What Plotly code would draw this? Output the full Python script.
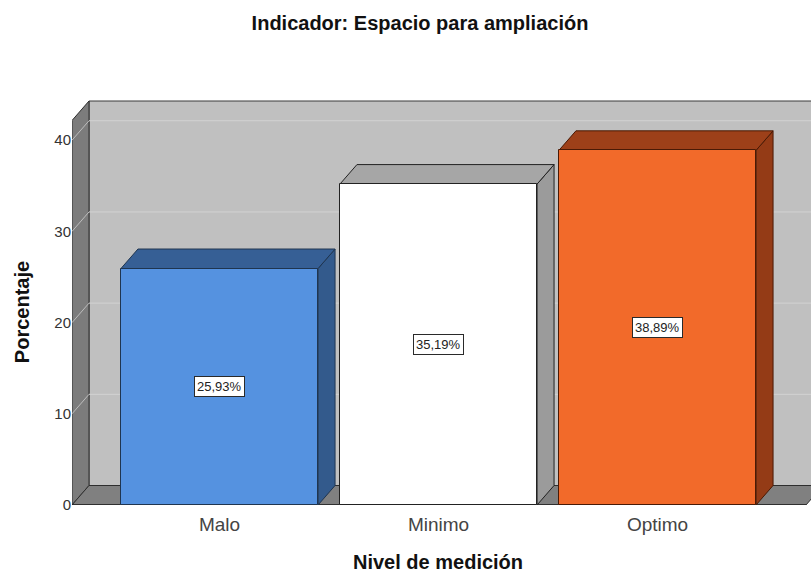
import plotly.graph_objects as go

# ---------------- data ----------------
categories = ["Malo", "Minimo", "Optimo"]
percentages = [25.93, 35.19, 38.89]
y_tick_values = [0, 10, 20, 30, 40]
title_text = "Indicador: Espacio para ampliación"
y_title = "Porcentaje"
x_title = "Nivel de medición"

# ---------------- style ----------------
front_colors = ["#5592e0", "#ffffff", "#f26a2a"]
top_colors = ["#365f95", "#a6a6a6", "#9d4019"]
side_colors = ["#335a8c", "#9b9b9b", "#943b16"]
edge_colors = ["#1f3550", "#222222", "#4a1a05"]
BAR_W = 0.9
X_RANGE = [-0.6735, 2.7009]
Y_RANGE = [0, 44.52]
X_FLOOR_END = 2.678
DX = 17 / 219.0      # depth offset in x units
DY = 19.5 / 9.12     # depth offset in y units
WALL_TOP = 44.3 - DY

FONT = "Liberation Sans, Arial, sans-serif"

x_pos = list(range(len(categories)))
xL = X_RANGE[0]
xR = X_FLOOR_END

shapes = []


def poly(pts, fill, line="#333333", width=1, layer="below"):
    path = "M " + " L ".join(f"{x},{y}" for x, y in pts) + " Z"
    return dict(type="path", path=path, xref="x", yref="y", fillcolor=fill,
                line=dict(color=line, width=width), layer=layer)


# back wall
shapes.append(poly([(xL + DX, DY), (xR + DX + 0.2, DY), (xR + DX + 0.2, WALL_TOP + DY),
                    (xL + DX, WALL_TOP + DY)], "#c0c0c0", "#3a3a3a"))
# left wall
shapes.append(poly([(xL, 0), (xL, WALL_TOP), (xL + DX, WALL_TOP + DY), (xL + DX, DY)],
                   "#7c7c7c", "#2e2e2e"))
# floor
shapes.append(poly([(xL, 0), (xR, 0), (xR + DX, DY), (xL + DX, DY)], "#808080", "#2e2e2e"))

# gridlines on walls
for v in y_tick_values[1:]:
    shapes.append(dict(type="line", xref="x", yref="y", x0=xL + DX, x1=xR + DX + 0.2,
                       y0=v + DY, y1=v + DY, line=dict(color="#d2d2d2", width=1), layer="below"))
    shapes.append(dict(type="line", xref="x", yref="y", x0=xL, x1=xL + DX,
                       y0=v, y1=v + DY, line=dict(color="#bdbdbd", width=1), layer="below"))

# floor front edge / axis line
shapes.append(dict(type="line", xref="x", yref="y", x0=xL, x1=xR, y0=0, y1=0,
                   line=dict(color="#222222", width=1.5), layer="below"))

# 3D top and side faces of bars
for i, v in enumerate(percentages):
    x0 = x_pos[i] - BAR_W / 2
    x1 = x_pos[i] + BAR_W / 2
    shapes.append(poly([(x1, 0), (x1, v), (x1 + DX, v + DY), (x1 + DX, DY)],
                       side_colors[i], edge_colors[i]))
    shapes.append(poly([(x0, v), (x1, v), (x1 + DX, v + DY), (x0 + DX, v + DY)],
                       top_colors[i], edge_colors[i]))

fig = go.Figure()
fig.add_trace(go.Bar(
    x=x_pos, y=percentages, width=BAR_W,
    marker=dict(color=front_colors, line=dict(color=edge_colors, width=1)),
    showlegend=False, hoverinfo="skip",
))

annotations = []
for i, v in enumerate(percentages):
    annotations.append(dict(
        x=x_pos[i], y=v / 2, xref="x", yref="y",
        text=f"{v:.2f}".replace(".", ",") + "%", showarrow=False,
        font=dict(family=FONT, size=13, color="#222222"),
        bgcolor="#ffffff", bordercolor="#2a2a2a", borderwidth=1, borderpad=2,
    ))

annotations.append(dict(
    text=f"<b>{y_title}</b>", xref="paper", yref="paper", x=0, y=0.475,
    xanchor="center", yanchor="middle", xshift=-50, textangle=-90, showarrow=False,
    font=dict(family=FONT, size=20, color="#111111"),
))
annotations.append(dict(
    text=f"<b>{x_title}</b>", xref="paper", yref="paper", x=(438 - 72) / 739, y=0,
    xanchor="center", yanchor="middle", yshift=-57, showarrow=False,
    font=dict(family=FONT, size=20, color="#111111"),
))

fig.update_layout(
    width=811, height=575,
    margin=dict(l=72, r=0, t=99, b=70),
    paper_bgcolor="#ffffff", plot_bgcolor="#ffffff",
    title=dict(text=f"<b>{title_text}</b>", x=420 / 811, xref="container", xanchor="center",
               y=1 - 23 / 575, yref="container", yanchor="middle",
               font=dict(family=FONT, size=20, color="#111111")),
    shapes=shapes, annotations=annotations,
    xaxis=dict(range=X_RANGE, tickmode="array", tickvals=x_pos, ticktext=categories,
               showgrid=False, zeroline=False, showline=False, ticks="",
               ticklabelstandoff=6,
               tickfont=dict(family=FONT, size=19, color="#444444"), fixedrange=True),
    yaxis=dict(range=Y_RANGE, tickmode="array", tickvals=y_tick_values,
               showgrid=False, zeroline=False, showline=False, ticks="",
               tickfont=dict(family=FONT, size=15, color="#333333"), fixedrange=True),
    bargap=0,
)

fig.write_html("out.html")
